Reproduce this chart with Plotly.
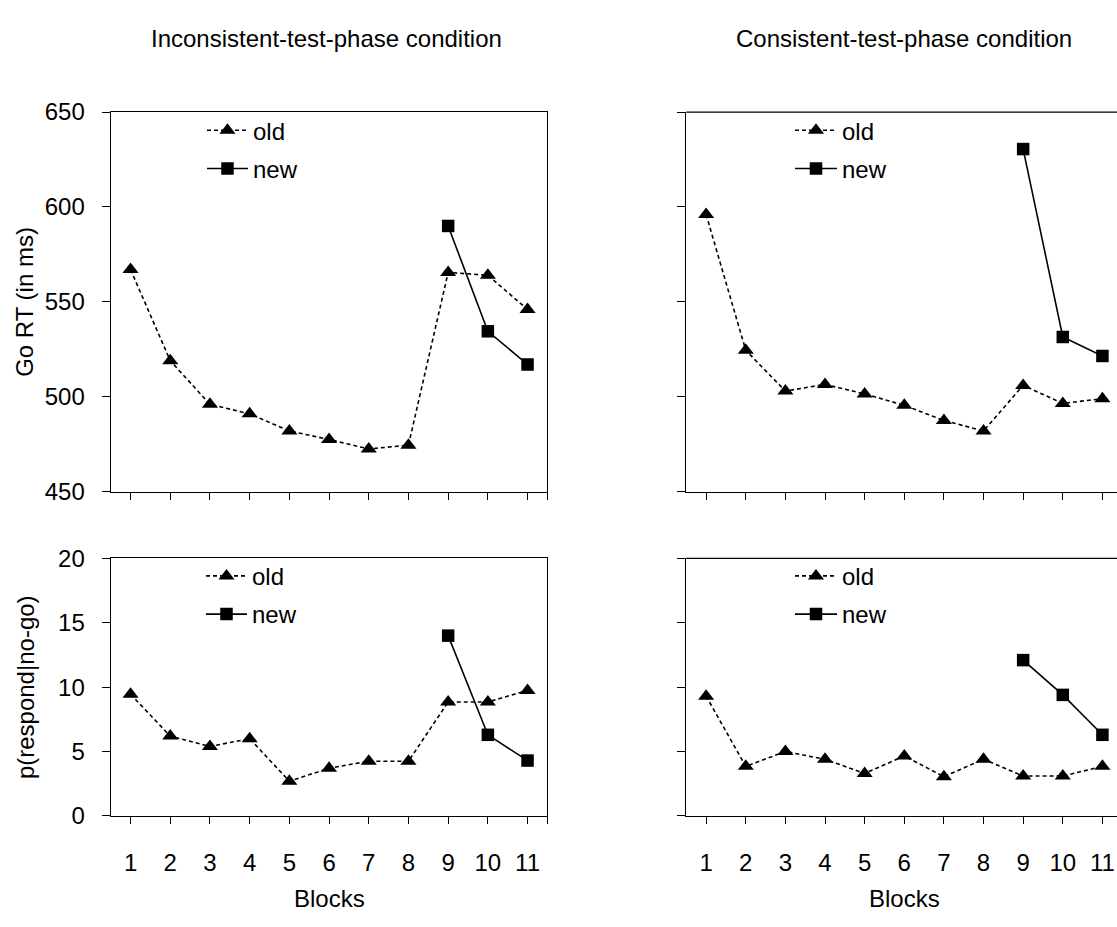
import plotly.graph_objects as go

blocks = list(range(1, 12))
new_blocks = [9, 10, 11]

rt_incons_old = [567, 519, 496, 491, 482, 477.5, 472.5, 474.5, 565.5, 564, 546]
rt_incons_new = [590, 534.5, 517]
rt_cons_old = [596, 524.5, 503, 506.5, 501.5, 495.5, 487.5, 482, 506, 496.5, 499]
rt_cons_new = [630.5, 531.5, 521.5]

err_incons_old = [9.45, 6.2, 5.4, 6.0, 2.7, 3.7, 4.25, 4.25, 8.85, 8.85, 9.75]
err_incons_new = [14.0, 6.3, 4.3]
err_cons_old = [9.3, 3.85, 5.0, 4.4, 3.3, 4.65, 3.05, 4.4, 3.1, 3.1, 3.85]
err_cons_new = [12.1, 9.4, 6.3]

titles = ["Inconsistent-test-phase condition", "Consistent-test-phase condition"]
ytitles = ["Go RT (in ms)", "p(respond|no-go)"]
rt_ticks = [450, 500, 550, 600, 650]
err_ticks = [0, 5, 10, 15, 20]

W, H = 1117, 927
FONT = "Liberation Sans, Arial, sans-serif"
FS = 24

def px(x):
    return x / W

def py(y):
    return 1 - y / H

fig = go.Figure()

panels = [
    ("x", "y", rt_incons_old, rt_incons_new, "legend"),
    ("x2", "y2", rt_cons_old, rt_cons_new, "legend2"),
    ("x3", "y3", err_incons_old, err_incons_new, "legend3"),
    ("x4", "y4", err_cons_old, err_cons_new, "legend4"),
]

for i, (xa, ya, old, new, lg) in enumerate(panels):
    fig.add_trace(go.Scatter(
        x=blocks, y=old, mode="lines+markers", name="old",
        xaxis=xa, yaxis=ya, legend=lg, legendgroup=f"old{i}",
        line=dict(color="black", width=1.6, dash="4px,3px"),
        marker=dict(symbol="triangle-up", size=14, color="black"),
        cliponaxis=False,
    ))
    fig.add_trace(go.Scatter(
        x=new_blocks, y=new, mode="lines+markers", name="new",
        xaxis=xa, yaxis=ya, legend=lg, legendgroup=f"new{i}",
        line=dict(color="black", width=1.6),
        marker=dict(symbol="square", size=12.5, color="black"),
        cliponaxis=False,
    ))

left_dom = [px(110.7), px(547.4)]
right_dom = [px(686.3), 1.0]
right_range = [0.5, 0.5 + (W - 686.3) / 39.63]
top_dom = [py(492), py(101)]
bot_dom = [py(826), py(560.7)]

axis_common = dict(showgrid=False, zeroline=False, showline=True,
                   linecolor="black", linewidth=1.3, ticks="outside",
                   tickcolor="black", tickwidth=1, ticklen=7,
                   tickfont=dict(family=FONT, size=FS, color="black"))

xticks_left = blocks + [11.5]
xtext_left = [str(b) for b in blocks] + [""]

def xaxis(dom, rng, labels, mirror, tv, tt, anchor):
    d = dict(axis_common)
    d.update(domain=dom, range=rng, tickmode="array", tickvals=tv, ticktext=tt,
             showticklabels=labels, mirror=mirror, anchor=anchor,
             ticklabelstandoff=18)
    return d

def yaxis(dom, rng, tv, labels, mirror, anchor):
    d = dict(axis_common)
    d.update(domain=dom, range=rng, tickmode="array", tickvals=tv,
             showticklabels=labels, mirror=mirror, anchor=anchor,
             ticklen=8, ticklabelstandoff=12)
    return d

fig.update_layout(
    xaxis=xaxis(left_dom, [0.5, 11.5], False, True, xticks_left, xtext_left, "y"),
    yaxis=yaxis(top_dom, [450, 650], rt_ticks, True, True, "x"),
    xaxis2=xaxis(right_dom, right_range, False, False, blocks, [str(b) for b in blocks], "y2"),
    yaxis2=yaxis(top_dom, [450, 650], rt_ticks, False, False, "x2"),
    xaxis3=xaxis(left_dom, [0.5, 11.5], True, True, xticks_left, xtext_left, "y3"),
    yaxis3=yaxis(bot_dom, [0, 20], err_ticks, True, True, "x3"),
    xaxis4=xaxis(right_dom, right_range, True, False, blocks, [str(b) for b in blocks], "y4"),
    yaxis4=yaxis(bot_dom, [0, 20], err_ticks, False, False, "x4"),
)

for xa, ya in [("x2", "y2"), ("x4", "y4")]:
    fig.add_shape(type="line", xref=f"{xa} domain", yref=f"{ya} domain",
                  x0=0, x1=1, y0=1, y1=1, line=dict(color="black", width=1.3))

legend_style = dict(font=dict(family=FONT, size=FS, color="black"),
                    bgcolor="rgba(0,0,0,0)", borderwidth=0,
                    xanchor="left", yanchor="top", tracegroupgap=4,
                    itemclick=False, itemdoubleclick=False)
fig.update_layout(
    legend=dict(legend_style, x=px(202), y=py(97), itemwidth=41),
    legend2=dict(legend_style, x=px(790), y=py(97), itemwidth=42),
    legend3=dict(legend_style, x=px(201), y=py(556), itemwidth=41),
    legend4=dict(legend_style, x=px(790), y=py(556), itemwidth=42),
)

ann = []
for t, xc in zip(titles, [326, 904]):
    ann.append(dict(text=t, x=px(xc), y=py(25), xref="paper", yref="paper",
                    showarrow=False, xanchor="center", yanchor="middle",
                    font=dict(family=FONT, size=FS, color="black")))
    ann.append(dict(text="Blocks", x=px(xc + 3 if xc < 500 else xc), y=py(911),
                    xref="paper", yref="paper",
                    showarrow=False, xanchor="center", yanchor="middle",
                    font=dict(family=FONT, size=FS, color="black")))
for t, yc in zip(ytitles, [296.5, 693.3]):
    ann.append(dict(text=t, x=px(25), y=py(yc), xref="paper", yref="paper",
                    showarrow=False, xanchor="center", yanchor="middle", textangle=-90,
                    font=dict(family=FONT, size=FS, color="black")))

fig.update_layout(
    annotations=ann,
    width=W, height=H, autosize=False,
    margin=dict(l=0, r=0, t=0, b=0),
    paper_bgcolor="white", plot_bgcolor="white",
    font=dict(family=FONT, size=FS, color="black"),
)

fig.write_html("out.html", config={"displayModeBar": False},
               post_script="document.body.style.margin='0';")
